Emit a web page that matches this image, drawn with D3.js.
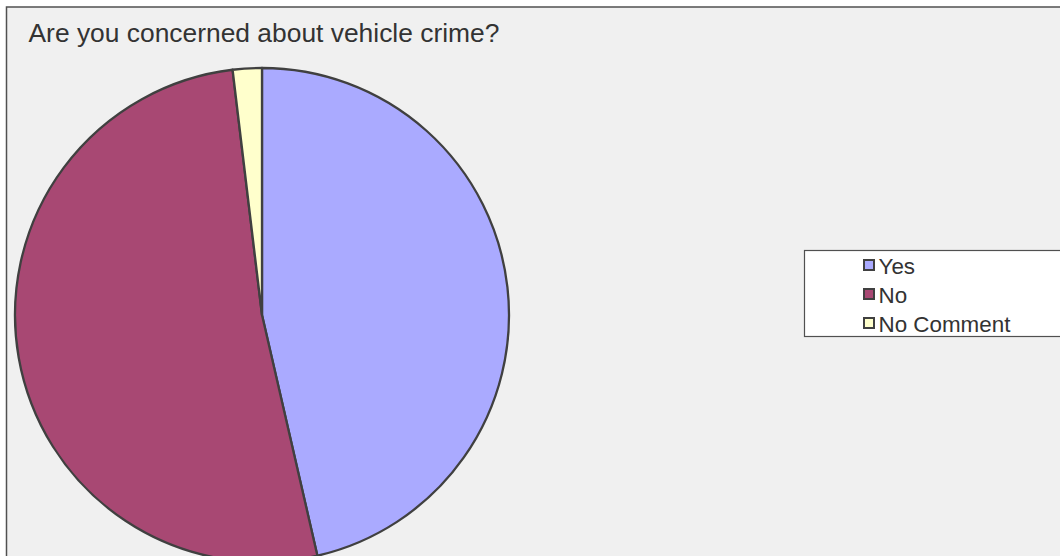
<!DOCTYPE html>
<html><head><meta charset="utf-8">
<script src="https://cdn.jsdelivr.net/npm/d3@7"></script>
<style>html,body{margin:0;padding:0;background:#fff;overflow:hidden}</style>
</head><body>
<script>
const title = "Are you concerned about vehicle crime?";
const categories = ["Yes", "No", "No Comment"];
const values = [46.4, 51.7, 1.9];
const colors = ["#aaaaff", "#a84873", "#ffffcc"];

const W = 1060, H = 556;
const svg = d3.select("body").append("svg").attr("width", W).attr("height", H);
svg.append("rect").attr("x", 6.5).attr("y", 7).attr("width", W + 20).attr("height", H + 20)
  .attr("fill", "#f0f0f0").attr("stroke", "#505050").attr("stroke-width", 1.5);

svg.append("text").attr("x", 28.5).attr("y", 42).text(title)
  .attr("font-family", "Liberation Sans, Arial, sans-serif").attr("font-size", 26.4).attr("fill", "#333");

const cx = 262, cy = 315, r = 247;
const data = categories.map((c, i) => ({ name: c, value: values[i], color: colors[i] }));
const pie = d3.pie().value(d => d.value).sort(null);
const arc = d3.arc().innerRadius(0).outerRadius(r);
svg.append("g").attr("transform", `translate(${cx},${cy})`)
  .selectAll("path").data(pie(data)).join("path")
  .attr("d", arc).attr("fill", d => d.data.color)
  .attr("stroke", "#404040").attr("stroke-width", 2.3).attr("stroke-linejoin", "round");

const lg = svg.append("g");
lg.append("rect").attr("x", 804.5).attr("y", 250.5).attr("width", 300).attr("height", 86)
  .attr("fill", "#fff").attr("stroke", "#505050").attr("stroke-width", 1.2);
const rowY = d3.scalePoint().domain(categories).range([265, 323]);
const items = lg.selectAll("g.item").data(data).join("g").attr("class", "item")
  .attr("transform", d => `translate(0,${rowY(d.name)})`);
items.append("rect").attr("x", 864).attr("y", -5).attr("width", 10).attr("height", 10)
  .attr("fill", d => d.color).attr("stroke", "#404040").attr("stroke-width", 2);
items.append("text").attr("x", 878.5).attr("y", 8.5).text(d => d.name)
  .attr("font-family", "Liberation Sans, Arial, sans-serif").attr("font-size", 22.4).attr("fill", "#333");
</script>
</body></html>
